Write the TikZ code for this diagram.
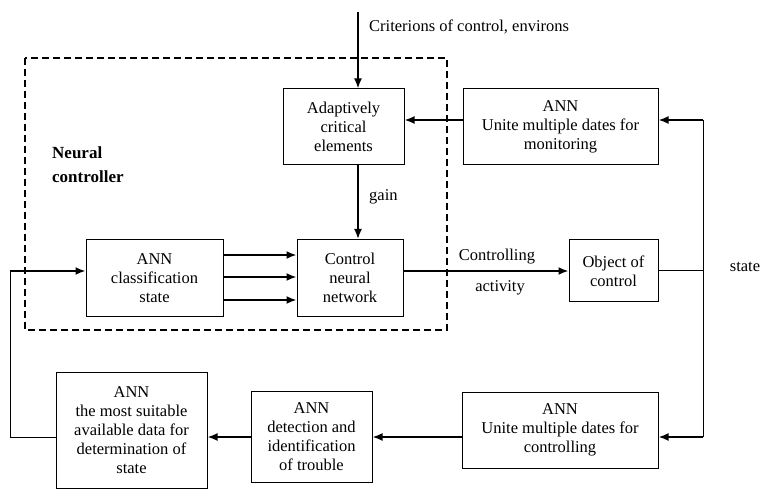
\documentclass[tikz,border=0pt]{standalone}
\usepackage{fontspec}
\setmainfont{Liberation Serif}
\usetikzlibrary{arrows.meta}
\tikzset{
  block/.style={draw, line width=1pt, align=center, inner sep=2pt,
    font=\fontsize{16.5}{19}\selectfont},
  lbl/.style={inner sep=0pt, font=\fontsize{16.5}{19}\selectfont},
  arr/.style={line width=1.8pt, -{Latex[length=10pt,width=8pt]}},
  wire/.style={line width=1pt},
  ctrlarea/.style={line width=1.8pt, dash pattern=on 7pt off 4pt}
}

\begin{document}
\begin{tikzpicture}[x=1pt,y=-1pt]
  \useasboundingbox (0,0) rectangle (761,489);
  \draw[ctrlarea] (25,58) rectangle (447,330);
  \node[block, minimum width=121pt, minimum height=76pt] (adapt) at (343.5,127) {Adaptively\\critical\\elements};
  \node[block, minimum width=195pt, minimum height=76pt] (monit) at (560.5,127) {ANN\\Unite multiple dates for\\monitoring};
  \node[block, minimum width=137pt, minimum height=77pt] (classif) at (154.5,278) {ANN\\classification\\state};
  \node[block, minimum width=106pt, minimum height=77pt] (ctrlnn) at (350,278) {Control\\neural\\network};
  \node[block, minimum width=89pt, minimum height=62pt] (object) at (613.5,271) {Object of\\control};
  \node[block, minimum width=151pt, minimum height=116pt] (suitable) at (131.5,430) {ANN\\the most suitable\\available data for\\determination of\\state};
  \node[block, minimum width=121pt, minimum height=91pt] (detect) at (311.5,437) {ANN\\detection and\\identification\\of trouble};
  \node[block, minimum width=196pt, minimum height=76pt] (unitectl) at (560,430) {ANN\\Unite multiple dates for\\controlling};
  \node[lbl, anchor=west] (crit) at (369,27) {Criterions of control, environs};
  \node[lbl, anchor=west, align=left, font=\fontsize{17}{24}\selectfont\bfseries] (neural) at (52,165) {Neural\\controller};
  \node[lbl, anchor=west] (gain) at (369,197) {gain};
  \node[lbl] (ctrling) at (497,257) {Controlling};
  \node[lbl] (activity) at (500,288) {activity};
  \node[lbl] (state) at (745,267) {state};
  \coordinate (top) at (358,12);
  \coordinate (input) at (10,271);
  \coordinate (rt) at (703,120);
  \coordinate (rb) at (703,437);
  \draw[arr] (top) -- (top |- adapt.north);
  \draw[arr] (top |- adapt.south) -- (top |- ctrlnn.north);
  \draw[arr] (monit.west |- rt) -- (adapt.east |- rt);
  \draw[wire] (object.east) -- (object.east -| rt);
  \draw[wire] (rt) -- (rb);
  \draw[arr] (rt) -- (monit.east |- rt);
  \draw[arr] (rb) -- (unitectl.east |- rb);
  \draw[arr] (unitectl.west |- rb) -- (detect.east |- rb);
  \draw[arr] (detect.west |- rb) -- (suitable.east |- rb);
  \draw[wire] (suitable.west |- rb) -| (input);
  \draw[arr] (input) -- (classif.west |- input);
  \foreach \ya in {255,277,300}
    \draw[arr] (classif.east |- 0,\ya) -- (ctrlnn.west |- 0,\ya);
  \draw[arr] (ctrlnn.east |- object.west) -- (object.west);
\end{tikzpicture}
\end{document}
